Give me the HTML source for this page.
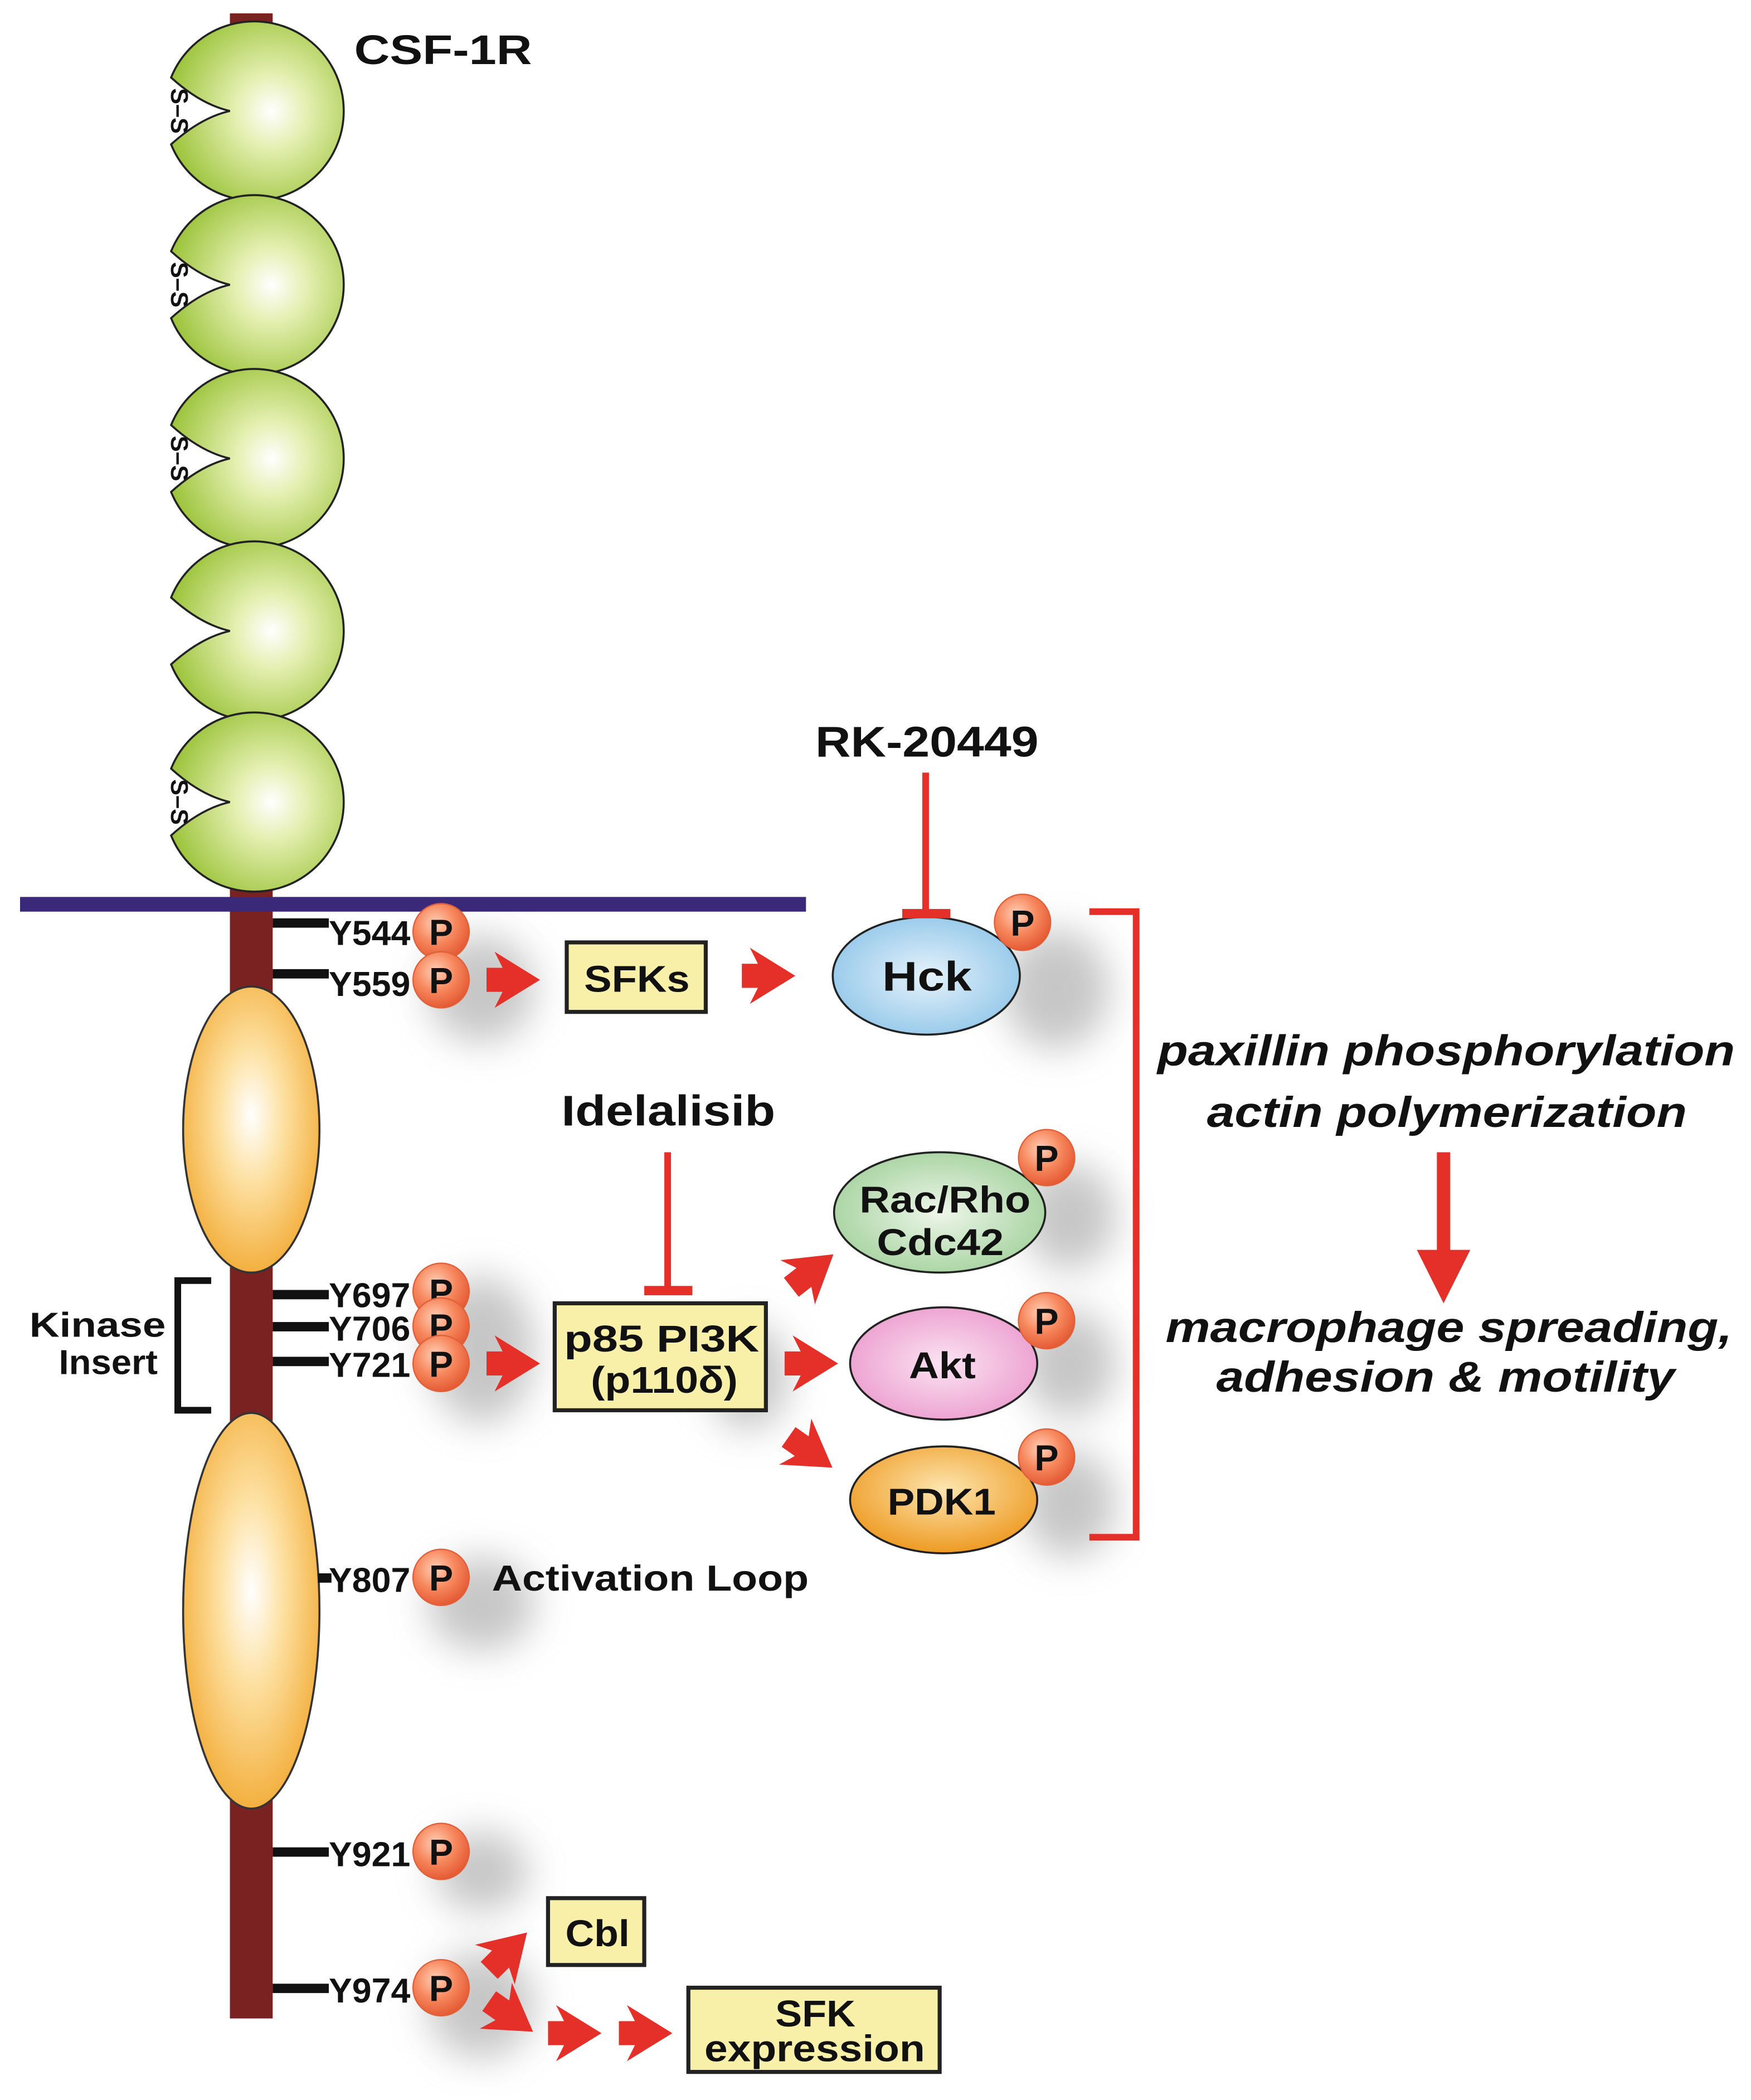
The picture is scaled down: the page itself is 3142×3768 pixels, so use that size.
<!DOCTYPE html>
<html><head><meta charset="utf-8"><style>
html,body{margin:0;padding:0;background:#fff;}
svg{display:block;}
text{font-family:"Liberation Sans",Arial,sans-serif;font-weight:bold;fill:#111;}
</style></head><body>
<svg width="3142" height="3768" viewBox="0 0 1310 1571" xmlns="http://www.w3.org/2000/svg">
<defs>
<radialGradient id="gg" cx="0.58" cy="0.5" r="0.6"><stop offset="0" stop-color="#ffffff"/><stop offset="0.35" stop-color="#e4efb0"/><stop offset="1" stop-color="#9cc43c"/></radialGradient>
<radialGradient id="og" cx="0.5" cy="0.45" r="0.6"><stop offset="0" stop-color="#ffffff"/><stop offset="0.4" stop-color="#fde0a0"/><stop offset="1" stop-color="#f2a830"/></radialGradient>
<radialGradient id="pg" cx="0.4" cy="0.35" r="0.7"><stop offset="0" stop-color="#ffd0b8"/><stop offset="0.5" stop-color="#f7885e"/><stop offset="1" stop-color="#e2542e"/></radialGradient>
<radialGradient id="bg" cx="0.5" cy="0.5" r="0.6"><stop offset="0" stop-color="#e6f2fb"/><stop offset="1" stop-color="#8cc4e8"/></radialGradient>
<radialGradient id="gr" cx="0.5" cy="0.5" r="0.6"><stop offset="0" stop-color="#eef6ea"/><stop offset="1" stop-color="#9fcf98"/></radialGradient>
<radialGradient id="pk" cx="0.5" cy="0.5" r="0.6"><stop offset="0" stop-color="#fbe4f2"/><stop offset="1" stop-color="#eb98cc"/></radialGradient>
<radialGradient id="or2" cx="0.5" cy="0.4" r="0.6"><stop offset="0" stop-color="#fde6b0"/><stop offset="1" stop-color="#ee9a22"/></radialGradient>
<filter id="bl" x="-1" y="-1" width="3" height="3"><feGaussianBlur stdDeviation="14"/></filter>
<path id="ar" d="M0,-9 L12,-9 L6,-21 L40,0 L6,21 L12,9 L0,9 Z" fill="#e5302a"/>
<g id="pc"><circle r="21" fill="url(#pg)" stroke="#e0603a" stroke-width="1"/><text x="0" y="10" font-size="27" text-anchor="middle">P</text></g>
</defs>

<g fill="#999" opacity="0.55" filter="url(#bl)">
<ellipse cx="360" cy="740" rx="40" ry="40"/>
<ellipse cx="360" cy="1010" rx="40" ry="55"/>
<ellipse cx="360" cy="1200" rx="40" ry="35"/>
<ellipse cx="360" cy="1400" rx="35" ry="30"/>
<ellipse cx="360" cy="1500" rx="40" ry="40"/>
<ellipse cx="790" cy="740" rx="40" ry="45"/>
<ellipse cx="800" cy="910" rx="35" ry="40"/>
<ellipse cx="800" cy="1020" rx="35" ry="40"/>
<ellipse cx="800" cy="1125" rx="35" ry="40"/>
<ellipse cx="560" cy="1030" rx="30" ry="40"/>
</g>

<rect x="172" y="10" width="32" height="1500" fill="#7a2222"/>

<g stroke="#222" stroke-width="1.5" fill="url(#gg)">
<path d="M128,58 A67,67 0 1 1 128,108 Q150,88 172,83 Q150,78 128,58 Z"/>
<path d="M128,188 A67,67 0 1 1 128,238 Q150,218 172,213 Q150,208 128,188 Z"/>
<path d="M128,318 A67,67 0 1 1 128,368 Q150,348 172,343 Q150,338 128,318 Z"/>
<path d="M128,447 A67,67 0 1 1 128,497 Q150,477 172,472 Q150,467 128,447 Z"/>
<path d="M128,575 A67,67 0 1 1 128,625 Q150,605 172,600 Q150,595 128,575 Z"/>
</g>
<g font-size="18" text-anchor="middle">
<text x="134" y="89" transform="rotate(90 134 83)">S–S</text>
<text x="134" y="219" transform="rotate(90 134 213)">S–S</text>
<text x="134" y="349" transform="rotate(90 134 343)">S–S</text>
<text x="134" y="606" transform="rotate(90 134 600)">S–S</text>
</g>
<text x="265" y="48" font-size="31" textLength="133" lengthAdjust="spacingAndGlyphs">CSF-1R</text>

<rect x="15" y="671" width="588" height="11" fill="#3a2878"/>

<ellipse cx="188" cy="845" rx="51" ry="107" fill="url(#og)" stroke="#333" stroke-width="1.5"/>
<ellipse cx="188" cy="1205" rx="51" ry="148" fill="url(#og)" stroke="#333" stroke-width="1.5"/>

<g fill="#111">
<rect x="204" y="687" width="42" height="7"/>
<rect x="204" y="725" width="42" height="7"/>
<rect x="204" y="965" width="42" height="7"/>
<rect x="204" y="989" width="42" height="7"/>
<rect x="204" y="1015" width="42" height="7"/>
<rect x="238" y="1177" width="10" height="7"/>
<rect x="204" y="1382" width="42" height="7"/>
<rect x="204" y="1484" width="42" height="7"/>
</g>
<g font-size="26">
<text x="246" y="707" textLength="61" lengthAdjust="spacingAndGlyphs">Y544</text>
<text x="246" y="745" textLength="61" lengthAdjust="spacingAndGlyphs">Y559</text>
<text x="246" y="978" textLength="61" lengthAdjust="spacingAndGlyphs">Y697</text>
<text x="246" y="1003" textLength="61" lengthAdjust="spacingAndGlyphs">Y706</text>
<text x="246" y="1030" textLength="61" lengthAdjust="spacingAndGlyphs">Y721</text>
<text x="246" y="1191" textLength="61" lengthAdjust="spacingAndGlyphs">Y807</text>
<text x="246" y="1396" textLength="61" lengthAdjust="spacingAndGlyphs">Y921</text>
<text x="246" y="1498" textLength="61" lengthAdjust="spacingAndGlyphs">Y974</text>
</g>
<use href="#pc" x="330" y="697"/>
<use href="#pc" x="330" y="733"/>
<use href="#pc" x="330" y="966"/>
<use href="#pc" x="330" y="992"/>
<use href="#pc" x="330" y="1020"/>
<use href="#pc" x="330" y="1180"/>
<use href="#pc" x="330" y="1385"/>
<use href="#pc" x="330" y="1487"/>

<path d="M158,958 L133,958 L133,1055 L158,1055" fill="none" stroke="#111" stroke-width="5"/>
<text x="22" y="1000" font-size="26" textLength="102" lengthAdjust="spacingAndGlyphs">Kinase</text>
<text x="44" y="1028" font-size="26" textLength="74" lengthAdjust="spacingAndGlyphs">Insert</text>
<text x="368" y="1190" font-size="27" textLength="237" lengthAdjust="spacingAndGlyphs">Activation Loop</text>

<g fill="#f8f0a8" stroke="#222" stroke-width="3">
<rect x="424" y="705" width="104" height="52"/>
<rect x="415" y="975" width="158" height="80"/>
<rect x="410" y="1420" width="72" height="50"/>
<rect x="515" y="1487" width="188" height="63"/>
</g>
<text x="437" y="742" font-size="28" textLength="79" lengthAdjust="spacingAndGlyphs">SFKs</text>
<text x="422" y="1011" font-size="28" textLength="146" lengthAdjust="spacingAndGlyphs">p85 PI3K</text>
<text x="442" y="1042" font-size="28" textLength="110" lengthAdjust="spacingAndGlyphs">(p110δ)</text>
<text x="423" y="1456" font-size="28" textLength="48" lengthAdjust="spacingAndGlyphs">Cbl</text>
<text x="580" y="1516" font-size="28" textLength="60" lengthAdjust="spacingAndGlyphs">SFK</text>
<text x="527" y="1542" font-size="28" textLength="165" lengthAdjust="spacingAndGlyphs">expression</text>

<ellipse cx="693" cy="730" rx="70" ry="44" fill="url(#bg)" stroke="#222" stroke-width="1.5"/>
<text x="660" y="741" font-size="31" textLength="67" lengthAdjust="spacingAndGlyphs">Hck</text>
<use href="#pc" x="765" y="690"/>
<ellipse cx="703" cy="907" rx="79" ry="45" fill="url(#gr)" stroke="#222" stroke-width="1.5"/>
<text x="643" y="907" font-size="28" textLength="128" lengthAdjust="spacingAndGlyphs">Rac/Rho</text>
<text x="656" y="939" font-size="28" textLength="95" lengthAdjust="spacingAndGlyphs">Cdc42</text>
<use href="#pc" x="783" y="866"/>
<ellipse cx="706" cy="1020" rx="70" ry="42" fill="url(#pk)" stroke="#222" stroke-width="1.5"/>
<text x="680" y="1031" font-size="28" textLength="50" lengthAdjust="spacingAndGlyphs">Akt</text>
<use href="#pc" x="783" y="988"/>
<ellipse cx="706" cy="1122" rx="70" ry="40" fill="url(#or2)" stroke="#222" stroke-width="1.5"/>
<text x="664" y="1133" font-size="28" textLength="81" lengthAdjust="spacingAndGlyphs">PDK1</text>
<use href="#pc" x="783" y="1090"/>

<use href="#ar" x="364" y="733"/>
<use href="#ar" x="555" y="730"/>
<use href="#ar" x="364" y="1020"/>
<use href="#ar" x="587" y="1020"/>
<use href="#ar" transform="translate(592,963) rotate(-38)"/>
<use href="#ar" transform="translate(590,1075) rotate(35)"/>
<use href="#ar" transform="translate(366,1474) rotate(-45)"/>
<use href="#ar" transform="translate(366,1497) rotate(35)"/>
<use href="#ar" x="410" y="1521"/>
<use href="#ar" x="463" y="1521"/>

<text x="610" y="566" font-size="32" textLength="167" lengthAdjust="spacingAndGlyphs">RK-20449</text>
<rect x="690" y="578" width="5" height="104" fill="#e5302a"/>
<rect x="675" y="680" width="36" height="7" fill="#e5302a"/>
<text x="420" y="842" font-size="32" textLength="160" lengthAdjust="spacingAndGlyphs">Idelalisib</text>
<rect x="497" y="862" width="5" height="103" fill="#e5302a"/>
<rect x="482" y="962" width="36" height="7" fill="#e5302a"/>

<path d="M815,682 L850,682 L850,1150 L815,1150" fill="none" stroke="#e5302a" stroke-width="5"/>

<g font-size="32" font-style="italic">
<text x="866" y="797" textLength="432" lengthAdjust="spacingAndGlyphs">paxillin phosphorylation</text>
<text x="903" y="843" textLength="359" lengthAdjust="spacingAndGlyphs">actin polymerization</text>
<text x="872" y="1004" textLength="424" lengthAdjust="spacingAndGlyphs">macrophage spreading,</text>
<text x="910" y="1041" textLength="343" lengthAdjust="spacingAndGlyphs">adhesion &amp; motility</text>
</g>
<rect x="1075" y="862" width="10" height="78" fill="#e5302a"/>
<path d="M1060,935 L1100,935 L1080,975 Z" fill="#e5302a"/>
</svg>
</body></html>
